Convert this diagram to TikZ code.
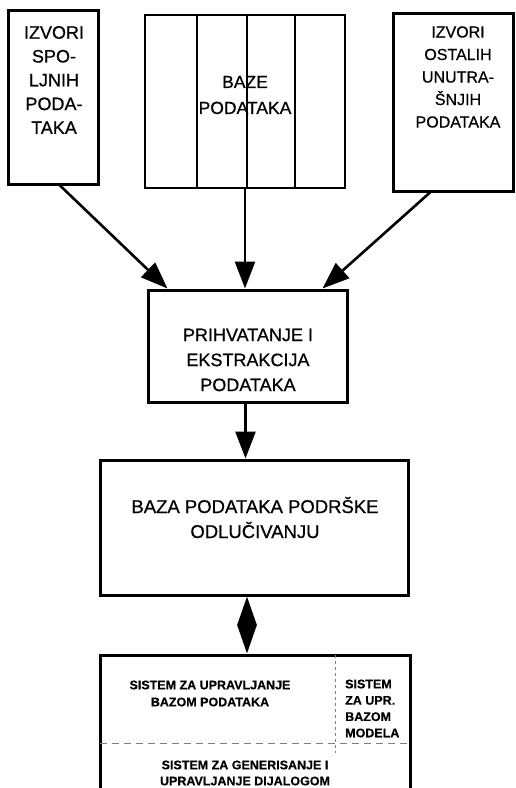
\documentclass[tikz,border=0pt]{standalone}
\usepackage{fontspec}
\setmainfont{Liberation Sans}
\newfontfamily\heavyfont{Liberation Sans}[FakeBold=0.7]
\newfontfamily\smallfont{Liberation Sans Bold}[FakeBold=0.4]
\usetikzlibrary{arrows.meta}
\begin{document}
\begin{tikzpicture}[x=1pt,y=-1pt,
  box/.style={draw, line width=3pt, inner sep=0pt},
  thinbox/.style={draw, line width=2.2pt, inner sep=0pt},
  txt/.style={align=center, inner sep=0pt},
  small/.style={inner sep=0pt},
  arr/.style={line width=2.6pt, -{Triangle[length=27pt,width=20pt]}},
  dbl/.style={line width=2.6pt, {Triangle[length=28.5pt,width=19pt]}-{Triangle[length=28.5pt,width=19pt]}},
  sep/.style={line width=0.9pt, gray, dash pattern=on 7pt off 5pt}]
\useasboundingbox (0,0) rectangle (516,788);
\clip (0,0) rectangle (516,788);

% source boxes
\node[box, minimum width=90pt, minimum height=174pt] (izv) at (53,97) {};
\node[txt, font=\heavyfont\fontsize{18}{23.8}\selectfont] (izvt) at (54,80) {IZVORI\\SPO-\\LJNIH\\PODA-\\TAKA};

\node[thinbox, minimum width=200pt, minimum height=173pt] (baze) at (245,101.5) {};
\draw[line width=1.5pt] (197,15) -- (197,188) (247,15) -- (247,188) (295,15) -- (295,188);
\node[txt, font=\heavyfont\fontsize{17.5}{26}\selectfont] (bazet) at (245,95) {BAZE\\PODATAKA};

\node[box, minimum width=120pt, minimum height=178pt] (ost) at (453,102) {};
\node[txt, font=\heavyfont\fontsize{16}{22.5}\selectfont] (ostt) at (458,77) {IZVORI\\OSTALIH\\UNUTRA-\\ŠNJIH\\PODATAKA};

% extraction
\node[box, minimum width=199pt, minimum height=112pt] (prih) at (247.5,346) {};
\node[txt, font=\heavyfont\fontsize{18}{25}\selectfont] (priht) at (248,360) {PRIHVATANJE I\\EKSTRAKCIJA\\PODATAKA};

% decision support database
\node[box, minimum width=308pt, minimum height=135pt] (baza) at (254,527.5) {};
\node[txt, font=\heavyfont\fontsize{18.5}{25}\selectfont] (bazat) at (255,517.5) {BAZA PODATAKA PODRŠKE\\ODLUČIVANJU};

% software system
\node[box, minimum width=310pt, minimum height=150pt] (sys) at (255,730) {};
\draw[sep] (100,743) -- (410,743);
\draw[sep, dash pattern=on 3pt off 3pt] (335,655) -- (335,753);
\node[small, align=center, font=\smallfont\fontsize{12.5}{17}\selectfont] (dbms) at (210,693.5) {SISTEM ZA UPRAVLJANJE\\BAZOM PODATAKA};
\node[small, align=left, anchor=west, font=\smallfont\fontsize{12.5}{16.3}\selectfont] (mbms) at (345,708.5) {SISTEM\\ZA UPR.\\BAZOM\\MODELA};
\node[small, align=center, font=\smallfont\fontsize{12.5}{16}\selectfont] (dlg) at (245,773) {SISTEM ZA GENERISANJE I\\UPRAVLJANJE DIJALOGOM};

% connectors
\draw[arr] ([xshift=7pt]izv.south) -- ([xshift=-80pt]prih.north);
\draw[arr] (baze.south) -- (baze.south |- prih.north);
\draw[arr] ([xshift=-23pt]ost.south) -- ([xshift=75pt]prih.north);
\draw[arr] ([xshift=-2pt]prih.south) -- ([xshift=-2pt]prih.south |- baza.north);
\draw[dbl] ([xshift=-7pt]baza.south) -- ([xshift=-7pt]baza.south |- sys.north);
\end{tikzpicture}
\end{document}
